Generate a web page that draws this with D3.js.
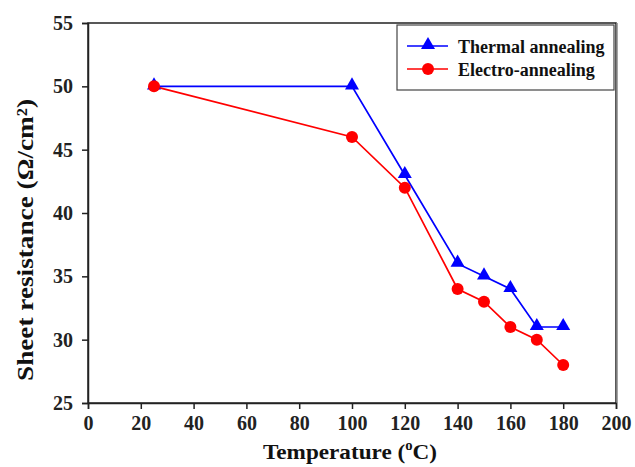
<!DOCTYPE html>
<html><head><meta charset="utf-8">
<script src="https://cdn.jsdelivr.net/npm/d3@7/dist/d3.min.js"></script>
<style>
body{margin:0;background:#fff;}
text{font-family:"Liberation Serif","Times New Roman",serif;font-weight:bold;}
</style></head>
<body>
<svg id="c" width="635" height="467"></svg>
<script>
const temps = [25, 100, 120, 140, 150, 160, 170, 180];
const thermal = [50, 50, 43, 36, 35, 34, 31, 31];
const electro = [50, 46, 42, 34, 33, 31, 30, 28];
const xTicks = [0, 20, 40, 60, 80, 100, 120, 140, 160, 180, 200];
const yTicks = [25, 30, 35, 40, 45, 50, 55];
const seriesNames = ["Thermal annealing", "Electro-annealing"];

const svg = d3.select("#c");
const L = 88, R = 616, T = 23, B = 403;
const x = d3.scaleLinear().domain([0, 200]).range([L, R]);
const y = d3.scaleLinear().domain([25, 55]).range([B, T]);

// frame
svg.append("rect").attr("x", L).attr("y", T).attr("width", R - L).attr("height", B - T)
  .attr("fill", "none").attr("stroke", "#222").attr("stroke-width", 1.5);
svg.append("line").attr("x1", R + 1).attr("x2", R + 1).attr("y1", T).attr("y2", B)
  .attr("stroke", "#888").attr("stroke-width", 1.5);

const xa = svg.append("g").attr("transform", `translate(0,${B})`)
  .call(d3.axisBottom(x).tickValues(xTicks).tickSize(6).tickPadding(7).tickFormat(d3.format("d")));
const ya = svg.append("g").attr("transform", `translate(${L},0)`)
  .call(d3.axisLeft(y).tickValues(yTicks).tickSize(6).tickPadding(9).tickFormat(d3.format("d")));
[xa, ya].forEach(a => {
  a.select(".domain").attr("stroke", "#222").attr("stroke-width", 1.5);
  a.selectAll(".tick line").attr("stroke", "#222").attr("stroke-width", 1.5);
  a.selectAll(".tick text").attr("font-size", 20).attr("fill", "#222")
   .style("font-family", '"Liberation Serif",serif').style("font-weight", "bold");
});

// axis titles
const xt = svg.append("text").attr("x", 263).attr("y", 459)
  .attr("font-size", 22).attr("fill", "#111").attr("textLength", 174).attr("lengthAdjust", "spacingAndGlyphs");
xt.append("tspan").text("Temperature (");
xt.append("tspan").text("o").attr("font-size", 14).attr("dy", -9);
xt.append("tspan").text("C)").attr("dy", 9);

svg.append("text").attr("transform", "translate(33,240) rotate(-90)")
  .attr("text-anchor", "middle").attr("font-size", 23).attr("fill", "#111")
  .attr("textLength", 282).attr("lengthAdjust", "spacingAndGlyphs")
  .text("Sheet resistance (Ω/cm²)");

const line = d3.line().x(d => x(d[0])).y(d => y(d[1]));
const tri = d3.symbol().type(d3.symbolTriangle).size(85);

const dT = temps.map((t, i) => [t, thermal[i]]);
const dE = temps.map((t, i) => [t, electro[i]]);

svg.append("path").datum(dT).attr("d", line).attr("fill", "none").attr("stroke", "#0000ff").attr("stroke-width", 1.7);
svg.append("path").datum(dE).attr("d", line).attr("fill", "none").attr("stroke", "#ff0000").attr("stroke-width", 1.7);

svg.selectAll(".tri").data(dT).enter().append("path")
  .attr("d", tri).attr("transform", d => `translate(${x(d[0])},${y(d[1]) - 1})`).attr("fill", "#0000ff");
svg.selectAll(".cir").data(dE).enter().append("circle")
  .attr("cx", d => x(d[0])).attr("cy", d => y(d[1])).attr("r", 6).attr("fill", "#ff0000");

// legend
const lg = svg.append("g");
lg.append("rect").attr("x", 397).attr("y", 25).attr("width", 217).attr("height", 65)
  .attr("fill", "#fff").attr("stroke", "#444").attr("stroke-width", 1.2);
const colors = ["#0000ff", "#ff0000"];
seriesNames.forEach((n, i) => {
  const yy = 46 + i * 23;
  lg.append("line").attr("x1", 407).attr("x2", 448).attr("y1", yy).attr("y2", yy)
    .attr("stroke", colors[i]).attr("stroke-width", 1.7);
  if (i === 0) lg.append("path").attr("d", tri).attr("transform", `translate(428,${yy - 1})`).attr("fill", colors[i]);
  else lg.append("circle").attr("cx", 428).attr("cy", yy).attr("r", 6).attr("fill", colors[i]);
  lg.append("text").attr("x", 458).attr("y", yy + 7).attr("font-size", 18).attr("fill", "#111").text(n);
});
</script>
</body></html>
